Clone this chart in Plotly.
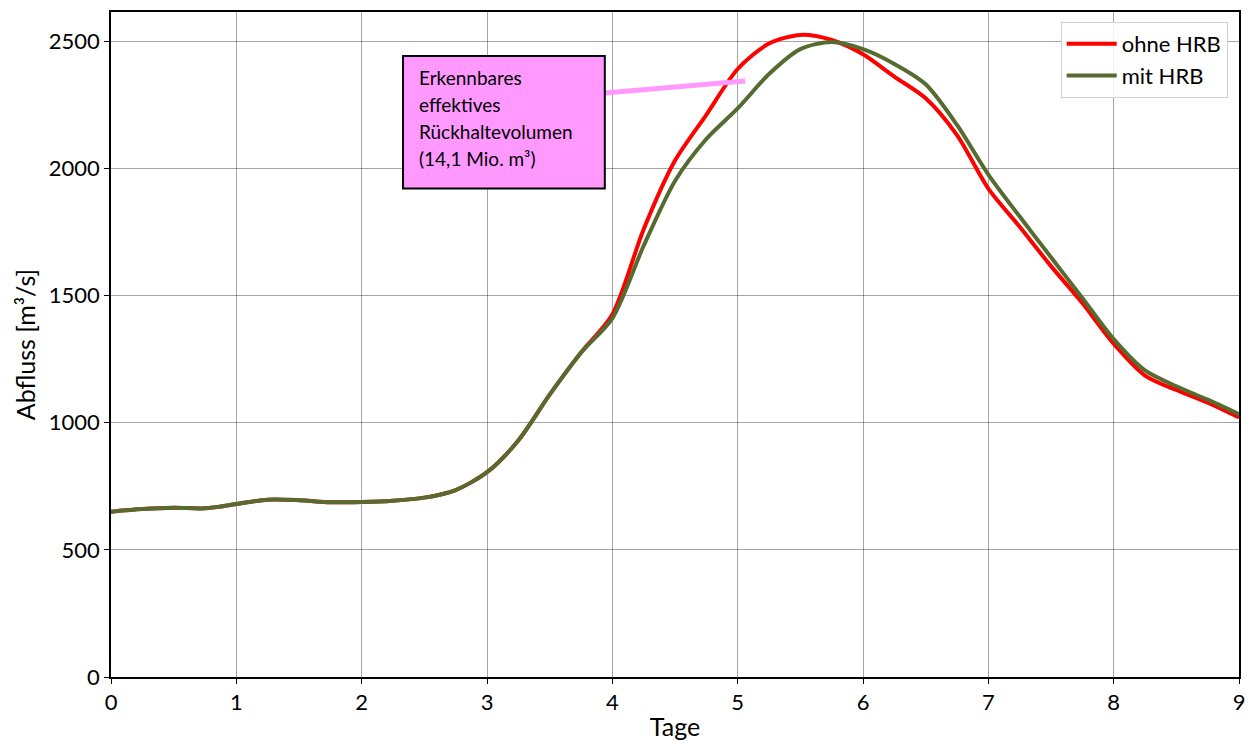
import plotly.graph_objects as go

# Abfluss-Ganglinien (Tage seit Beginn, m³/s)
tage = [0, 0.25, 0.5, 0.75, 1.0, 1.25, 1.5, 1.75, 2.0, 2.25, 2.5, 2.75, 3.0, 3.25,
        3.5, 3.75, 4.0, 4.25, 4.5, 4.75, 5.0, 5.25, 5.5, 5.75, 6.0, 6.25, 6.5, 6.75,
        7.0, 7.25, 7.5, 7.75, 8.0, 8.25, 8.5, 8.75, 9.0]

ohne_hrb = [650, 660, 665, 663, 680, 697, 695, 687, 688, 693, 705, 735, 805, 930,
            1110, 1275, 1425, 1760, 2030, 2210, 2390, 2490, 2524, 2504, 2448, 2360,
            2275, 2130, 1920, 1770, 1615, 1470, 1310, 1185, 1128, 1078, 1020]

mit_hrb = [650, 660, 665, 663, 680, 697, 695, 687, 688, 693, 705, 735, 805, 930,
           1110, 1275, 1410, 1695, 1950, 2115, 2235, 2370, 2468, 2496, 2468, 2410,
           2330, 2170, 1975, 1810, 1650, 1490, 1328, 1205, 1143, 1090, 1033]

y_ticks = [0, 500, 1000, 1500, 2000, 2500]
x_ticks = list(range(0, 10))

box_lines = ["Erkennbares", "effektives", "Rückhaltevolumen", "(14,1 Mio. m³)"]

FONT = "Lato"

fig = go.Figure()
fig.add_trace(go.Scatter(x=tage, y=ohne_hrb, mode="lines", name="ohne HRB",
                         line=dict(color="#ff0000", width=4, shape="spline", smoothing=0.8)))
fig.add_trace(go.Scatter(x=tage, y=mit_hrb, mode="lines", name="mit HRB",
                         line=dict(color="#556b2f", width=4, shape="spline", smoothing=0.8)))

# Hinweisbox mit Verbindungslinie
fig.add_shape(type="line", x0=3.94, y0=2296, x1=5.06, y1=2343,
              line=dict(color="#ff99ff", width=5), layer="above")
fig.add_shape(type="rect", x0=2.33, x1=3.94, y0=1920, y1=2441,
              fillcolor="#ff99ff", line=dict(color="black", width=2), layer="above")
for i, txt in enumerate(box_lines):
    fig.add_annotation(x=2.44, y=2356 - i * 106, text=txt, showarrow=False,
                       xanchor="left", yanchor="middle",
                       font=dict(family=FONT, size=19, color="black"))

axis_common = dict(showline=True, linecolor="black", linewidth=1.5, mirror=True,
                   showgrid=True, gridcolor="rgba(0,0,0,0.35)", gridwidth=1,
                   ticks="outside", ticklen=5, tickcolor="black", zeroline=False,
                   tickfont=dict(family=FONT, size=22, color="black"))

fig.update_layout(
    width=1255, height=747,
    margin=dict(l=111, r=13, t=10, b=70),
    plot_bgcolor="white", paper_bgcolor="white",
    xaxis=dict(range=[0, 9], tickvals=x_ticks,
               title=dict(text="Tage", font=dict(family=FONT, size=25, color="black"), standoff=4),
               **axis_common),
    yaxis=dict(range=[0, 2614], tickvals=y_ticks,
               title=dict(text="Abfluss [m³/s]", font=dict(family=FONT, size=25, color="black"), standoff=6),
               **axis_common),
    legend=dict(x=0.99, y=0.985, xanchor="right", yanchor="top",
                bgcolor="rgba(255,255,255,0.85)", bordercolor="#d0d0d0", borderwidth=1,
                font=dict(family=FONT, size=22, color="black"), itemwidth=50,
                tracegroupgap=4),
    showlegend=True,
)

fig.write_html("out.html")
